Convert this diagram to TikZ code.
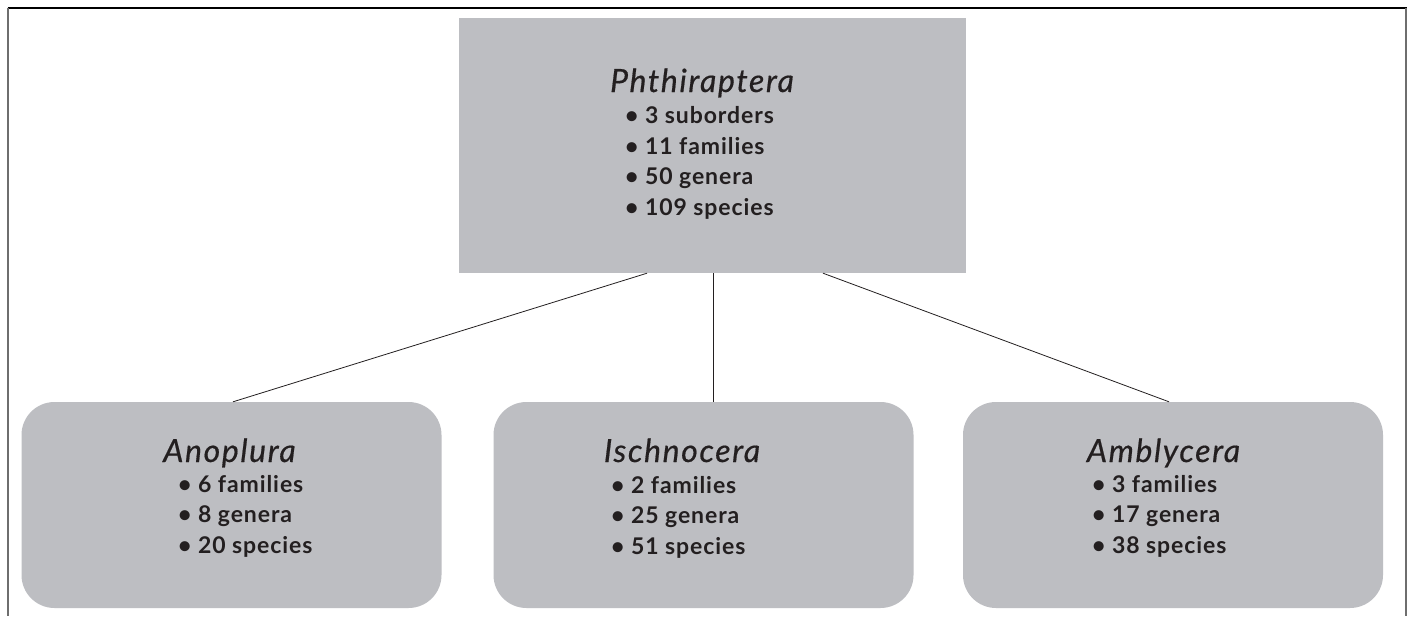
\documentclass[tikz,border=0pt]{standalone}
\usepackage{fontspec}
\setmainfont{Lato}
\newfontfamily\ttlfont[FakeBold=0.5,LetterSpace=5]{Lato Italic}
\newfontfamily\itmfont[LetterSpace=4]{Lato Bold}
\definecolor{boxgray}{RGB}{189,190,194}
\definecolor{ink}{RGB}{35,31,32}
\definecolor{framegray}{RGB}{110,110,110}
\tikzset{
  topbox/.style={draw=none,fill=boxgray,rectangle,minimum width=507pt,minimum height=255pt,inner sep=0pt},
  subbox/.style={draw=none,fill=boxgray,rectangle,rounded corners=33pt,minimum width=420pt,minimum height=206pt,inner sep=0pt},
  ttl/.style={inner sep=0pt,anchor=base,text=ink,font=\ttlfont\fontsize{32}{34}\selectfont},
  itm/.style={inner sep=0pt,anchor=base west,text=ink,font=\itmfont\fontsize{23}{26}\selectfont},
  link/.style={draw=ink,line width=0.8pt}
}
\begin{document}
\begin{tikzpicture}[x=1pt,y=-1pt]
\useasboundingbox (0,0) rectangle (1412,616);
\fill[white] (0,0) rectangle (1412,616);
% frame
\draw[black,line width=1.3pt] (7.5,8) -- (1406.5,8);
\draw[framegray,line width=1.6pt] (8,8) -- (8,616);
\draw[framegray,line width=1.6pt] (1406,8) -- (1406,616);
% boxes
\node[topbox] (top) at (712.5,145.5) {};
\node[subbox] (ano) at (231.5,505) {};
\node[subbox] (isch) at (703.5,505) {};
\node[subbox] (amb) at (1173,505) {};
% connectors
\draw[link] ([xshift=-65.5pt]top.south) -- ([xshift=1.5pt]ano.north);
\draw[link] ([xshift=0.5pt]top.south) -- ([xshift=9.5pt]isch.north);
\draw[link] ([xshift=110.5pt]top.south) -- ([xshift=-4pt]amb.north);
% top text
\node[ttl] (t0) at (702,92) {Phthiraptera};
\node[itm] (t1) at (625,123) {• 3 suborders};
\node[itm] (t2) at (625,154) {• 11 families};
\node[itm] (t3) at (625,184) {• 50 genera};
\node[itm] (t4) at (625,215) {• 109 species};
% Anoplura
\node[ttl] (a0) at (229.5,462) {Anoplura};
\node[itm] (a1) at (178,492) {• 6 families};
\node[itm] (a2) at (178,522) {• 8 genera};
\node[itm] (a3) at (178,553) {• 20 species};
% Ischnocera
\node[ttl] (i0) at (682,462) {Ischnocera};
\node[itm] (i1) at (611,493) {• 2 families};
\node[itm] (i2) at (611,523) {• 25 genera};
\node[itm] (i3) at (611,554) {• 51 species};
% Amblycera
\node[ttl] (m0) at (1163.5,462) {Amblycera};
\node[itm] (m1) at (1092,492) {• 3 families};
\node[itm] (m2) at (1092,522) {• 17 genera};
\node[itm] (m3) at (1092,553) {• 38 species};
\end{tikzpicture}
\end{document}
